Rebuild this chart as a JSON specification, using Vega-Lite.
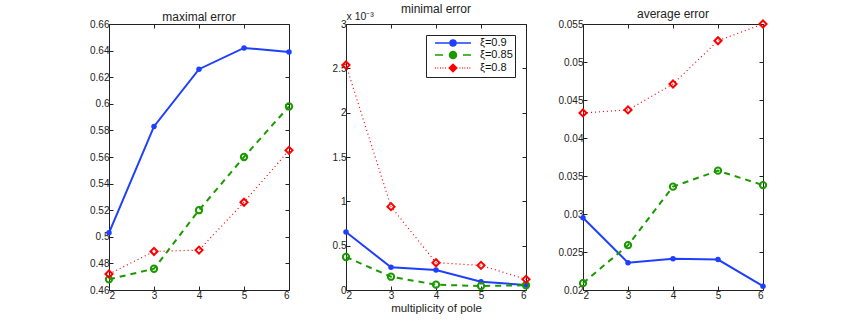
{
  "$schema": "https://vega.github.io/schema/vega-lite/v6.json",
  "autosize": {"type": "pad"},
  "padding": {"left": 89, "top": 2, "right": 0, "bottom": 0},
  "background": "white",
  "bounds": "flush",
  "spacing": 57,
  "resolve": {"scale": {"color": "independent"}, "legend": {"color": "independent"}},
  "config": {
    "font": "Liberation Sans",
    "view": {"stroke": "#222", "strokeWidth": 1},
    "axis": {"domain": false, "grid": false, "tickColor": "#222", "tickSize": -4, "labelFontSize": 10, "labelColor": "#222", "labelPadding": 4, "titleFontWeight": "normal", "titleFontSize": 11.5, "titleColor": "#222"},
    "title": {"fontSize": 12, "fontWeight": "normal", "color": "#222", "offset": -5}
  },
  "hconcat": [
    {
      "width": 180, "height": 266,
      "title": {"text": "maximal error"},
      "data": {"values": [
        {"m": 2, "xi": "ξ=0.9", "v": 0.503}, {"m": 3, "xi": "ξ=0.9", "v": 0.583}, {"m": 4, "xi": "ξ=0.9", "v": 0.626}, {"m": 5, "xi": "ξ=0.9", "v": 0.642}, {"m": 6, "xi": "ξ=0.9", "v": 0.639},
        {"m": 2, "xi": "ξ=0.85", "v": 0.468}, {"m": 3, "xi": "ξ=0.85", "v": 0.476}, {"m": 4, "xi": "ξ=0.85", "v": 0.520}, {"m": 5, "xi": "ξ=0.85", "v": 0.560}, {"m": 6, "xi": "ξ=0.85", "v": 0.598},
        {"m": 2, "xi": "ξ=0.8", "v": 0.472}, {"m": 3, "xi": "ξ=0.8", "v": 0.489}, {"m": 4, "xi": "ξ=0.8", "v": 0.490}, {"m": 5, "xi": "ξ=0.8", "v": 0.526}, {"m": 6, "xi": "ξ=0.8", "v": 0.565}
      ]},
      "layer": [
        {"mark": {"type": "point", "opacity": 0},
         "encoding": {
           "x": {"field": "m", "type": "quantitative", "scale": {"domain": [2, 6], "nice": false}, "axis": {"orient": "top", "labels": false, "values": [2, 3, 4, 5, 6], "title": null}},
           "y": {"field": "v", "type": "quantitative", "scale": {"domain": [0.46, 0.66], "nice": false, "zero": false}, "axis": {"orient": "right", "labels": false, "values": [0.46, 0.48, 0.5, 0.52, 0.54, 0.56, 0.58, 0.6, 0.62, 0.64, 0.66], "title": null}}
         }},
        {"transform": [{"filter": "datum.xi === 'ξ=0.9'"}],
         "mark": {"type": "line", "strokeWidth": 2, "point": {"filled": true, "size": 30}},
         "encoding": {
           "x": {"field": "m", "type": "quantitative", "scale": {"domain": [2, 6], "nice": false}, "axis": {"values": [2, 3, 4, 5, 6], "format": "d", "title": null}},
           "y": {"field": "v", "type": "quantitative", "scale": {"domain": [0.46, 0.66], "nice": false, "zero": false}, "axis": {"values": [0.46, 0.48, 0.5, 0.52, 0.54, 0.56, 0.58, 0.6, 0.62, 0.64, 0.66], "format": "~g", "title": null}},
           "color": {"field": "xi", "type": "nominal", "scale": {"domain": ["ξ=0.9", "ξ=0.85", "ξ=0.8"], "range": ["#1f3fff", "#1a9a00", "#ff0000"]}, "legend": null}
         }},
        {"transform": [{"filter": "datum.xi === 'ξ=0.85'"}],
         "mark": {"type": "line", "strokeWidth": 2, "strokeDash": [6, 5], "point": {"filled": false, "size": 40, "strokeWidth": 2}},
         "encoding": {
           "x": {"field": "m", "type": "quantitative", "scale": {"domain": [2, 6], "nice": false}, "axis": null},
           "y": {"field": "v", "type": "quantitative", "scale": {"domain": [0.46, 0.66], "nice": false, "zero": false}, "axis": null},
           "color": {"field": "xi", "type": "nominal", "scale": {"domain": ["ξ=0.9", "ξ=0.85", "ξ=0.8"], "range": ["#1f3fff", "#1a9a00", "#ff0000"]}, "legend": null}
         }},
        {"transform": [{"filter": "datum.xi === 'ξ=0.8'"}],
         "mark": {"type": "line", "strokeWidth": 1.2, "strokeDash": [1, 3], "point": {"filled": false, "shape": "diamond", "size": 50, "strokeWidth": 2}},
         "encoding": {
           "x": {"field": "m", "type": "quantitative", "scale": {"domain": [2, 6], "nice": false}, "axis": null},
           "y": {"field": "v", "type": "quantitative", "scale": {"domain": [0.46, 0.66], "nice": false, "zero": false}, "axis": null},
           "color": {"field": "xi", "type": "nominal", "scale": {"domain": ["ξ=0.9", "ξ=0.85", "ξ=0.8"], "range": ["#1f3fff", "#1a9a00", "#ff0000"]}, "legend": null}
         }}
      ],
      "resolve": {"axis": {"x": "independent", "y": "independent"}}
    },
    {
      "width": 180, "height": 266,
      "title": {"text": "minimal error"},
      "data": {"values": [
        {"m": 2, "xi": "ξ=0.9", "v": 0.654}, {"m": 3, "xi": "ξ=0.9", "v": 0.256}, {"m": 4, "xi": "ξ=0.9", "v": 0.226}, {"m": 5, "xi": "ξ=0.9", "v": 0.094}, {"m": 6, "xi": "ξ=0.9", "v": 0.056},
        {"m": 2, "xi": "ξ=0.85", "v": 0.372}, {"m": 3, "xi": "ξ=0.85", "v": 0.150}, {"m": 4, "xi": "ξ=0.85", "v": 0.060}, {"m": 5, "xi": "ξ=0.85", "v": 0.045}, {"m": 6, "xi": "ξ=0.85", "v": 0.053},
        {"m": 2, "xi": "ξ=0.8", "v": 2.537}, {"m": 3, "xi": "ξ=0.8", "v": 0.940}, {"m": 4, "xi": "ξ=0.8", "v": 0.308}, {"m": 5, "xi": "ξ=0.8", "v": 0.278}, {"m": 6, "xi": "ξ=0.8", "v": 0.120}
      ]},
      "layer": [
        {"mark": {"type": "point", "opacity": 0},
         "encoding": {
           "x": {"field": "m", "type": "quantitative", "scale": {"domain": [2, 6], "nice": false}, "axis": {"orient": "top", "labels": false, "values": [2, 3, 4, 5, 6], "title": null}},
           "y": {"field": "v", "type": "quantitative", "scale": {"domain": [0, 3], "nice": false}, "axis": {"orient": "right", "labels": false, "values": [0, 0.5, 1, 1.5, 2, 2.5, 3], "title": null}}
         }},
        {"transform": [{"filter": "datum.xi === 'ξ=0.9'"}],
         "mark": {"type": "line", "strokeWidth": 2, "point": {"filled": true, "size": 30}},
         "encoding": {
           "x": {"field": "m", "type": "quantitative", "scale": {"domain": [2, 6], "nice": false}, "axis": {"values": [2, 3, 4, 5, 6], "format": "d", "title": "multiplicity of pole", "titlePadding": 2}},
           "y": {"field": "v", "type": "quantitative", "scale": {"domain": [0, 3], "nice": false}, "axis": {"values": [0, 0.5, 1, 1.5, 2, 2.5, 3], "format": "~g", "title": "x 10⁻³", "titleFontSize": 10.5, "titleAngle": 0, "titleX": 0, "titleY": -3, "titleAlign": "left", "titleBaseline": "bottom"}},
           "color": {"field": "xi", "type": "nominal", "scale": {"domain": ["ξ=0.9", "ξ=0.85", "ξ=0.8"], "range": ["#1f3fff", "#1a9a00", "#ff0000"]},
             "legend": {
               "title": null, "orient": "top-right", "offset": 11,
               "strokeColor": "#222", "fillColor": "white", "padding": 2, "rowPadding": -2,
               "labelFont": "Liberation Sans", "labelFontSize": 11, "labelColor": "#111", "labelOffset": 40,
               "symbolSize": 100,
               "encode": {"symbols": {"update": {
                 "shape": {"signal": "datum.value === 'ξ=0.9' ? 'M0.2,0H7.4M3.2,0A0.6,0.6,0,1,0,4.4,0A0.6,0.6,0,1,0,3.2,0' : datum.value === 'ξ=0.85' ? 'M0.2,0H1.8M5.8,0H7.4M3.1,0A0.7,0.7,0,1,0,4.5,0A0.7,0.7,0,1,0,3.1,0' : 'M0.2,0h0.15M0.7,0h0.15M1.2,0h0.15M1.7,0h0.15M2.2,0h0.15M5.1,0h0.15M5.6,0h0.15M6.1,0h0.15M6.6,0h0.15M7.1,0h0.15M3.8,-0.75L4.55,0L3.8,0.75L3.05,0Z'"},
                 "fill": {"signal": "datum.value === 'ξ=0.9' ? '#1f3fff' : 'white'"},
                 "stroke": {"signal": "datum.value === 'ξ=0.9' ? '#1f3fff' : datum.value === 'ξ=0.85' ? '#1a9a00' : '#ff0000'"},
                 "strokeWidth": {"value": 1.5},
                 "strokeDash": {"value": []},
                 "opacity": {"value": 1}
               }}}
             }}
         }},
        {"transform": [{"filter": "datum.xi === 'ξ=0.85'"}],
         "mark": {"type": "line", "strokeWidth": 2, "strokeDash": [6, 5], "point": {"filled": false, "size": 40, "strokeWidth": 2}},
         "encoding": {
           "x": {"field": "m", "type": "quantitative", "scale": {"domain": [2, 6], "nice": false}, "axis": null},
           "y": {"field": "v", "type": "quantitative", "scale": {"domain": [0, 3], "nice": false}, "axis": null},
           "color": {"field": "xi", "type": "nominal", "scale": {"domain": ["ξ=0.9", "ξ=0.85", "ξ=0.8"], "range": ["#1f3fff", "#1a9a00", "#ff0000"]}}
         }},
        {"transform": [{"filter": "datum.xi === 'ξ=0.8'"}],
         "mark": {"type": "line", "strokeWidth": 1.2, "strokeDash": [1, 3], "point": {"filled": false, "shape": "diamond", "size": 50, "strokeWidth": 2}},
         "encoding": {
           "x": {"field": "m", "type": "quantitative", "scale": {"domain": [2, 6], "nice": false}, "axis": null},
           "y": {"field": "v", "type": "quantitative", "scale": {"domain": [0, 3], "nice": false}, "axis": null},
           "color": {"field": "xi", "type": "nominal", "scale": {"domain": ["ξ=0.9", "ξ=0.85", "ξ=0.8"], "range": ["#1f3fff", "#1a9a00", "#ff0000"]}}
         }}
      ],
      "resolve": {"axis": {"x": "independent", "y": "independent"}}
    },
    {
      "width": 180, "height": 266,
      "title": {"text": "average error"},
      "data": {"values": [
        {"m": 2, "xi": "ξ=0.9", "v": 0.0295}, {"m": 3, "xi": "ξ=0.9", "v": 0.0236}, {"m": 4, "xi": "ξ=0.9", "v": 0.0241}, {"m": 5, "xi": "ξ=0.9", "v": 0.0240}, {"m": 6, "xi": "ξ=0.9", "v": 0.0205},
        {"m": 2, "xi": "ξ=0.85", "v": 0.0209}, {"m": 3, "xi": "ξ=0.85", "v": 0.0259}, {"m": 4, "xi": "ξ=0.85", "v": 0.0336}, {"m": 5, "xi": "ξ=0.85", "v": 0.0357}, {"m": 6, "xi": "ξ=0.85", "v": 0.0338},
        {"m": 2, "xi": "ξ=0.8", "v": 0.0433}, {"m": 3, "xi": "ξ=0.8", "v": 0.0437}, {"m": 4, "xi": "ξ=0.8", "v": 0.0471}, {"m": 5, "xi": "ξ=0.8", "v": 0.0528}, {"m": 6, "xi": "ξ=0.8", "v": 0.0550}
      ]},
      "layer": [
        {"mark": {"type": "point", "opacity": 0},
         "encoding": {
           "x": {"field": "m", "type": "quantitative", "scale": {"domain": [2, 6], "nice": false}, "axis": {"orient": "top", "labels": false, "values": [2, 3, 4, 5, 6], "title": null}},
           "y": {"field": "v", "type": "quantitative", "scale": {"domain": [0.02, 0.055], "nice": false, "zero": false}, "axis": {"orient": "right", "labels": false, "values": [0.02, 0.025, 0.03, 0.035, 0.04, 0.045, 0.05, 0.055], "title": null}}
         }},
        {"transform": [{"filter": "datum.xi === 'ξ=0.9'"}],
         "mark": {"type": "line", "strokeWidth": 2, "point": {"filled": true, "size": 30}},
         "encoding": {
           "x": {"field": "m", "type": "quantitative", "scale": {"domain": [2, 6], "nice": false}, "axis": {"values": [2, 3, 4, 5, 6], "format": "d", "title": null}},
           "y": {"field": "v", "type": "quantitative", "scale": {"domain": [0.02, 0.055], "nice": false, "zero": false}, "axis": {"values": [0.02, 0.025, 0.03, 0.035, 0.04, 0.045, 0.05, 0.055], "format": "~g", "title": null}},
           "color": {"field": "xi", "type": "nominal", "scale": {"domain": ["ξ=0.9", "ξ=0.85", "ξ=0.8"], "range": ["#1f3fff", "#1a9a00", "#ff0000"]}, "legend": null}
         }},
        {"transform": [{"filter": "datum.xi === 'ξ=0.85'"}],
         "mark": {"type": "line", "strokeWidth": 2, "strokeDash": [6, 5], "point": {"filled": false, "size": 40, "strokeWidth": 2}},
         "encoding": {
           "x": {"field": "m", "type": "quantitative", "scale": {"domain": [2, 6], "nice": false}, "axis": null},
           "y": {"field": "v", "type": "quantitative", "scale": {"domain": [0.02, 0.055], "nice": false, "zero": false}, "axis": null},
           "color": {"field": "xi", "type": "nominal", "scale": {"domain": ["ξ=0.9", "ξ=0.85", "ξ=0.8"], "range": ["#1f3fff", "#1a9a00", "#ff0000"]}, "legend": null}
         }},
        {"transform": [{"filter": "datum.xi === 'ξ=0.8'"}],
         "mark": {"type": "line", "strokeWidth": 1.2, "strokeDash": [1, 3], "point": {"filled": false, "shape": "diamond", "size": 50, "strokeWidth": 2}},
         "encoding": {
           "x": {"field": "m", "type": "quantitative", "scale": {"domain": [2, 6], "nice": false}, "axis": null},
           "y": {"field": "v", "type": "quantitative", "scale": {"domain": [0.02, 0.055], "nice": false, "zero": false}, "axis": null},
           "color": {"field": "xi", "type": "nominal", "scale": {"domain": ["ξ=0.9", "ξ=0.85", "ξ=0.8"], "range": ["#1f3fff", "#1a9a00", "#ff0000"]}, "legend": null}
         }}
      ],
      "resolve": {"axis": {"x": "independent", "y": "independent"}}
    }
  ]
}
